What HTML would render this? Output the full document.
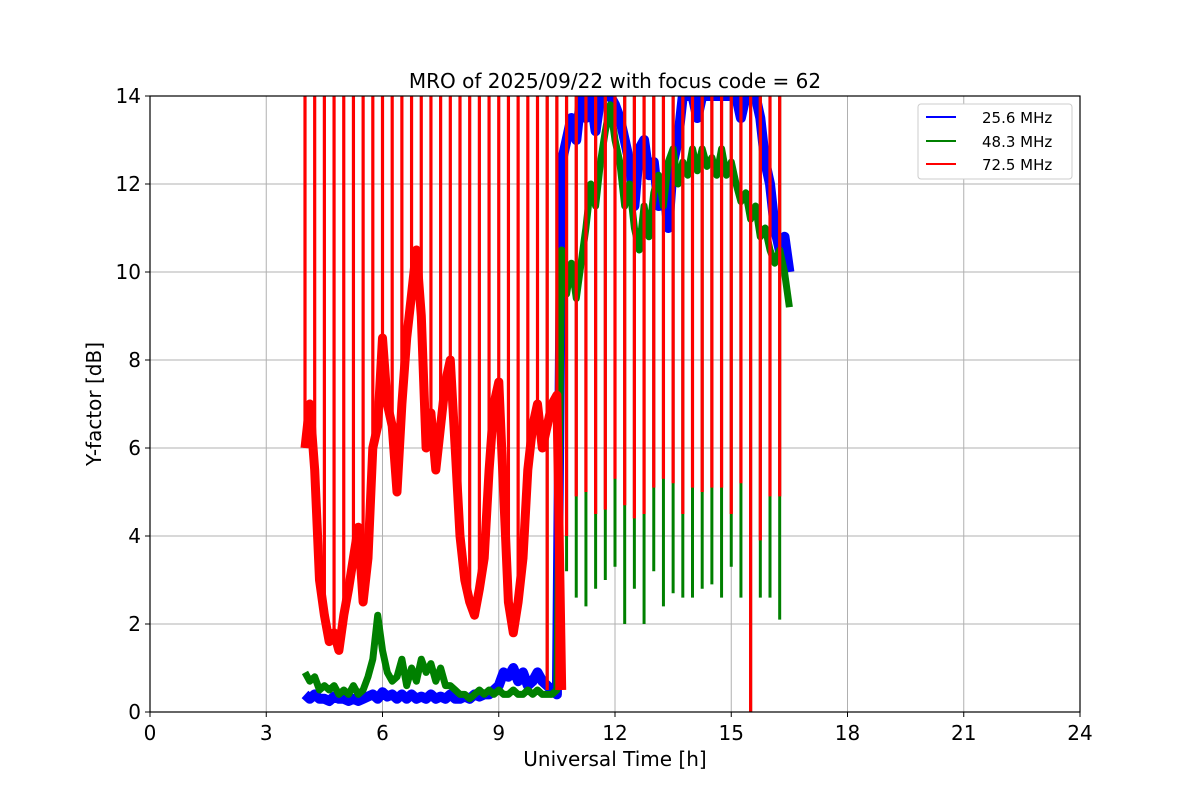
<!DOCTYPE html>
<html><head><meta charset="utf-8"><style>
body{margin:0;background:#fff}
svg text{font-family:"DejaVu Sans","Liberation Sans",sans-serif;fill:#000}
</style></head><body>
<svg id="chart" width="1200" height="800" viewBox="0 0 1200 800">
<rect width="1200" height="800" fill="#fff"/>
<text x="615" y="88" font-size="20" text-anchor="middle">MRO of 2025/09/22 with focus code = 62</text>
<g id="grid"></g>
<defs><clipPath id="pc"><rect x="150" y="96" width="930" height="616"/></clipPath></defs>
<g id="series" clip-path="url(#pc)"></g>
<rect x="150" y="96" width="930" height="616" fill="none" stroke="#000" stroke-width="1.2"/>
<g id="axes"></g>
<text x="615" y="766" font-size="20" text-anchor="middle">Universal Time [h]</text>
<text transform="translate(101,404) rotate(-90)" font-size="20" text-anchor="middle">Y-factor [dB]</text>
<g>
<rect x="918" y="104" width="154" height="75" rx="3" fill="#fff" stroke="#ccc"/>
<g><line x1="926" y1="117" x2="956" y2="117" stroke="#0000ff" stroke-width="2"/><text x="982" y="123" font-size="15">25.6 MHz</text></g>
<g><line x1="926" y1="141" x2="956" y2="141" stroke="#008000" stroke-width="2"/><text x="982" y="147" font-size="15">48.3 MHz</text></g>
<g><line x1="926" y1="164" x2="956" y2="164" stroke="#ff0000" stroke-width="2"/><text x="982" y="170" font-size="15">72.5 MHz</text></g>
</g>
</svg>
<script>
const xTicks=[0,3,6,9,12,15,18,21,24];
const yTicks=[0,2,4,6,8,10,12,14];
// red 72.5 MHz baseline, t = 4.0 .. 10.625 step 0.125 (54 pts)
const redStart=4.0, redStep=0.125;
const redVals=[6,7,5.5,3,2.2,1.6,1.8,1.4, 2.2,2.8,3.5,4.2,2.5,3.5,6,6.5, 8.5,7,6.5,5,7,8.5,9.5,10.5, 9,6,6.8,5.5,6.5,7.5,8,6, 4,3,2.5,2.2,2.8,3.5,5.5,7, 7.5,5,2.5,1.8,2.5,3.5,5.5,6.5, 7,6,6.5,7,7.2,0.5];
// green 48.3 MHz, t = 4.0 .. 16.5 step 0.125 (101 pts)
const greenStart=4.0, greenStep=0.125;
const greenVals=[0.9,0.7,0.8,0.5,0.6,0.5,0.6,0.4, 0.5,0.4,0.6,0.4,0.5,0.8,1.2,2.2, 1.4,0.9,0.7,0.8,1.2,0.6,1.0,0.7, 1.2,0.9,1.1,0.7,1.0,0.6,0.6,0.5, 0.4,0.4,0.3,0.4,0.5,0.4,0.5,0.4, 0.5,0.4,0.4,0.5,0.4,0.4,0.5,0.4, 0.5,0.4,0.4,0.4,0.5,
10.5,9.5,10.2,9.4,10.2,11,12,11.5,12.5,13.2,13.8,13,12.5,11.5,12,11,10.5,11.5,10.8,11.8,12.2,11.5,12.5,12.8,12,12.5,12.2,12.8,12.3,12.8,12.4,12.6,12.2,12.8,12.2,12.5,12,11.6,11.8,11.2,11.5,10.8,11,10.5,10.2,10.5,10,9.2];
// blue 25.6 MHz, t = 4.0 .. 16.5 step 0.125 (101 pts)
const blueStart=4.0, blueStep=0.125;
const blueVals=[0.4,0.3,0.4,0.3,0.3,0.25,0.35,0.3, 0.3,0.25,0.3,0.25,0.3,0.35,0.4,0.3, 0.45,0.35,0.4,0.3,0.4,0.3,0.4,0.3, 0.35,0.3,0.4,0.3,0.35,0.3,0.4,0.3, 0.3,0.35,0.3,0.4,0.35,0.4,0.4,0.5, 0.6,0.9,0.8,1.0,0.7,0.9,0.6,0.7, 0.9,0.7,0.6,0.5,0.4,
12.5,13,13.5,13,14,13.5,14,13.2,14,14,14,13.8, 13.5,13,12.5,11.5,12.8,13,12.2,12.5, 11.5,12,11,12.5,13,14,14,14, 13.5,14,14,14,14,14,14,14, 14,13.5,14,14,14,13.5,12.5,12, 11,10.5,10.8,10];
// spikes every 0.25 h from 4.0 to 16.25 (50); lower end values per channel
const spikeStart=4.0, spikeStep=0.25;
const redSpikeLow=[6,5.5,2.2,1.8,2.2,3.5,2.5,6,8.5,6.5,7,9.5,9,6.8,6.5,8,4,2.5,2.8,5.5,7.5,2.5,2.5,5.5,7,
0.5,0.5,4.0,4.9,5.0,4.5,4.6,5.3,4.7,4.4,4.5,5.1,5.3,5.2,4.5,5.1,5.0,5.1,5.1,4.5,5.2,0,3.9,4.9,4.9];
const greenSpikeLow=[14,14,14,14,14,14,14,14,14,14,14,14,14,14,14,14,14,14,14,14,14,14,14,14,14,
0.5,0.5,3.2,2.6,2.4,2.8,3.0,3.3,2.0,2.8,2.0,3.2,2.4,2.7,2.6,2.6,2.8,2.9,2.6,3.3,2.6,0,2.6,2.6,2.1];
const ns='http://www.w3.org/2000/svg';
const X0=150,X1=1080,Y0=712,Y1=96;
const xs=t=>X0+(t/24)*(X1-X0);
const ys=v=>Y0-(v/14)*(Y0-Y1);
const grid=document.getElementById('grid'),axes=document.getElementById('axes'),ser=document.getElementById('series');
function mk(tag,attrs,parent){const e=document.createElementNS(ns,tag);for(const k in attrs)e.setAttribute(k,attrs[k]);parent.appendChild(e);return e;}
xTicks.forEach(t=>{
  const g=mk('line',{x1:xs(t),x2:xs(t),y1:Y1,y2:Y0,stroke:'#b0b0b0','stroke-width':1},grid);
  
  
  mk('line',{x1:xs(t),x2:xs(t),y1:Y0,y2:Y0+5,stroke:'#000'},axes);
  const l=mk('text',{x:xs(t),y:Y0+28,'font-size':20,'text-anchor':'middle'},axes);l.textContent=t;
  
  
});
yTicks.forEach(v=>{
  const g=mk('line',{x1:X0,x2:X1,y1:ys(v),y2:ys(v),stroke:'#b0b0b0','stroke-width':1},grid);
  
  
  mk('line',{x1:X0-5,x2:X0,y1:ys(v),y2:ys(v),stroke:'#000'},axes);
  const l=mk('text',{x:X0-9,y:ys(v)+7,'font-size':20,'text-anchor':'end'},axes);l.textContent=v;
  
  
});
function line(vals,start,step,color,w,name){
  const pts=vals.map((v,i)=>xs(start+i*step).toFixed(1)+','+ys(v).toFixed(1)).join(' ');
  const p=mk('polyline',{points:pts,fill:'none',stroke:color,'stroke-width':w,'stroke-linejoin':'round'},ser);
  
  
}
function spikes(lows,color,w,name){
  lows.forEach((v,i)=>{
    if(v>=14)return;
    const x=xs(spikeStart+i*spikeStep);
    const s=mk('line',{x1:x,x2:x,y1:ys(v),y2:ys(15),stroke:color,'stroke-width':w},ser);
    
    
  });
}
line(blueVals,blueStart,blueStep,'#0000ff',10,'series-25mhz');
line(greenVals,greenStart,greenStep,'#008000',7,'series-48mhz');
spikes(greenSpikeLow,'#008000',3,'spike-48mhz');
line(redVals,redStart,redStep,'#ff0000',9,'series-72mhz');
spikes(redSpikeLow,'#ff0000',3.2,'spike-72mhz');
</script>
</body></html>
